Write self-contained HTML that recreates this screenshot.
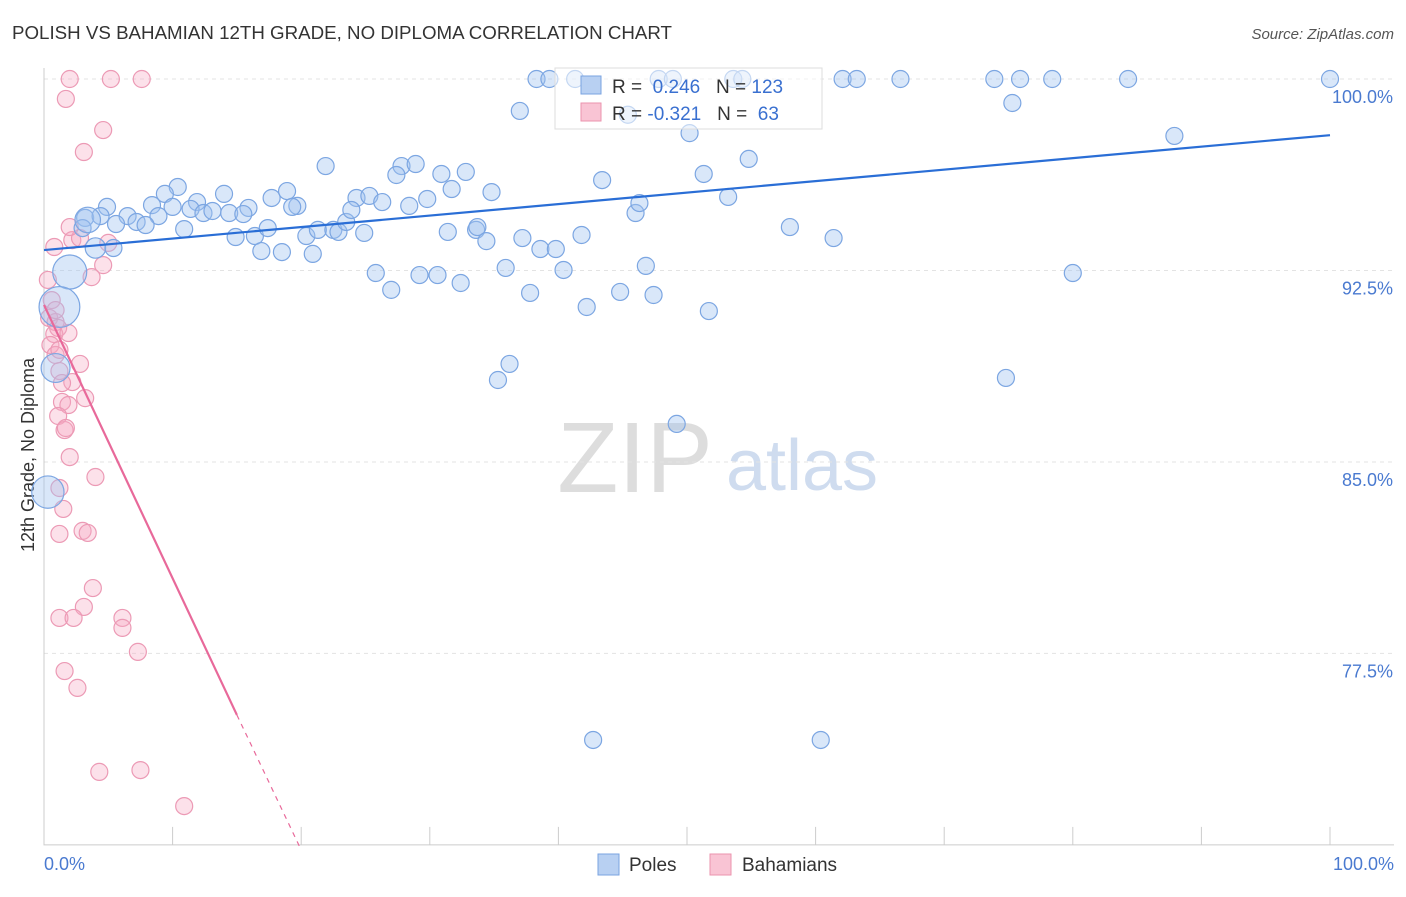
<!DOCTYPE html>
<html><head><meta charset="utf-8"><style>
body{margin:0;background:#fff;font-family:"Liberation Sans",sans-serif}
svg text{font-family:"Liberation Sans",sans-serif}
</style></head><body>
<svg id="chart" width="1406" height="892" xmlns="http://www.w3.org/2000/svg">
<text x="12" y="39" font-size="18" fill="#333" textLength="660" lengthAdjust="spacingAndGlyphs">POLISH VS BAHAMIAN 12TH GRADE, NO DIPLOMA CORRELATION CHART</text>
<text x="1394" y="39" font-size="15" fill="#555" text-anchor="end" font-style="italic">Source: ZipAtlas.com</text>
<text transform="translate(34,455) rotate(-90)" font-size="18" fill="#333" text-anchor="middle">12th Grade, No Diploma</text>
<g>
<text x="635" y="492" font-size="100" fill="#ddd" text-anchor="middle" font-family="Liberation Serif">ZIP</text>
<text x="802" y="490" font-size="72" fill="#cfdcef" text-anchor="middle">atlas</text>
</g>
<g id="grid"></g><g id="axes"></g><g id="pts"></g><g id="lines"></g>
<g>
<rect x="555" y="68" width="267" height="61" fill="rgba(255,255,255,0.55)" stroke="#ddd"/>
<rect x="581" y="76" width="20" height="18" fill="#b8d0f2" stroke="#7aa3e0"/>
<rect x="581" y="103" width="20" height="18" fill="#f9c4d4" stroke="#eb93ae"/>
<text x="612" y="93" font-size="19" fill="#333">R = <tspan fill="#3a70d0">&#160;0.246</tspan>&#160;&#160;&#160;N = <tspan fill="#3a70d0">123</tspan></text>
<text x="612" y="120" font-size="19" fill="#333">R = <tspan fill="#3a70d0">-0.321</tspan>&#160;&#160;&#160;N = <tspan fill="#3a70d0">&#160;63</tspan></text>
</g>
<g>
<rect x="598" y="854" width="21" height="21" fill="#b8d0f2" stroke="#7aa3e0"/>
<text x="629" y="871" font-size="19" fill="#333">Poles</text>
<rect x="710" y="854" width="21" height="21" fill="#f9c4d4" stroke="#eb93ae"/>
<text x="742" y="871" font-size="19" fill="#333">Bahamians</text>
</g>
</svg>
<script>
const yTicks=[100,92.5,85,77.5];
const yTickLabels=["100.0%","92.5%","85.0%","77.5%"];
const xTickLabels=["0.0%","100.0%"];
const polesX=[38.3,39.3,41.3,47.8,48.9,53.6,54.3,62.1,63.2,66.6,73.9,75.9,78.4,84.3,100,37.0,45.4,75.3,87.9,50.2,54.8,21.9,27.8,28.9,27.4,30.9,32.8,31.7,34.8,43.4,51.3,10.4,9.4,14.0,17.7,18.9,19.7,19.3,24.3,25.3,26.3,28.4,29.8,8.4,10.0,11.9,11.4,12.4,13.1,14.4,15.9,15.5,4.9,6.5,8.9,7.2,7.9,5.6,3.2,4.4,3.0,10.9,14.9,16.4,17.4,16.9,18.5,20.4,21.3,22.5,22.9,23.5,23.9,24.9,20.9,31.4,33.6,33.7,34.4,37.2,38.6,39.8,41.8,46.0,46.3,53.2,58.0,61.4,25.8,27.0,29.2,30.6,32.4,35.9,37.8,40.4,42.2,44.8,46.8,47.4,51.7,80.0,36.2,35.3,74.8,49.2,42.7,60.4,2.0,1.2,0.9,0.3,3.4,4.0,5.4];
const polesY=[100,100,100,100,100,100,100,100,100,100,100,100,100,100,100,98.75,98.6,99.06,97.77,97.88,96.87,96.59,96.59,96.67,96.24,96.28,96.36,95.69,95.57,96.04,96.28,95.77,95.5,95.5,95.34,95.61,95.03,94.99,95.34,95.42,95.18,95.03,95.30,95.06,94.99,95.18,94.91,94.75,94.83,94.75,94.95,94.71,94.99,94.63,94.63,94.40,94.28,94.32,94.56,94.63,94.16,94.12,93.81,93.85,94.16,93.26,93.22,93.85,94.09,94.09,94.01,94.40,94.87,93.97,93.15,94.01,94.09,94.20,93.65,93.77,93.34,93.34,93.89,94.75,95.14,95.38,94.20,93.77,92.40,91.74,92.32,92.32,92.01,92.60,91.62,92.52,91.07,91.66,92.68,91.54,90.91,92.40,88.84,88.21,88.29,86.49,74.11,74.11,92.44,91.07,88.68,83.82,94.48,93.38,93.38];
const polesSize=[];for(let i=0;i<polesX.length;i++)polesSize.push(1);
polesSize[polesSize.length-7]=2;polesSize[polesSize.length-6]=2.4;polesSize[polesSize.length-5]=1.7;polesSize[polesSize.length-4]=1.9;polesSize[polesSize.length-3]=1.5;polesSize[polesSize.length-2]=1.2;
const bahX=[2.0,5.2,7.6,1.7,4.6,3.1,0.8,2.2,2.8,2.0,5.0,4.6,3.7,0.3,0.6,0.4,0.9,1.1,0.8,1.9,0.5,0.9,1.2,2.8,2.2,3.2,1.4,1.9,1.1,1.6,1.7,2.0,4.0,1.2,1.5,1.2,3.0,3.4,3.8,3.1,1.2,2.3,6.1,6.1,7.3,1.6,2.6,4.3,7.5,10.9,0.9,1.2,1.4];
const bahY=[100,100,100,99.22,98.0,97.14,93.42,93.69,93.77,94.20,93.58,92.71,92.24,92.13,91.34,90.64,90.48,90.25,90.01,90.05,89.58,89.19,88.56,88.84,88.13,87.50,87.35,87.23,86.80,86.25,86.33,85.19,84.41,83.98,83.16,82.18,82.30,82.22,80.06,79.32,78.89,78.89,78.89,78.50,77.56,76.81,76.15,72.86,72.93,71.52,90.95,89.39,88.09];
const polesTrend=[93.3,97.8];
const bahTrend=[91.15,75.09,69.8];
const NS="http://www.w3.org/2000/svg";
const X=v=>44+v*12.86, Y=v=>79+(100-v)*25.53;
function mk(t,a,p){const e=document.createElementNS(NS,t);for(const k in a)e.setAttribute(k,a[k]);p.appendChild(e);return e;}
const grid=document.getElementById('grid'),axes=document.getElementById('axes'),pts=document.getElementById('pts'),lines=document.getElementById('lines');
yTicks.forEach((t,i)=>{
 const l=mk('line',{x1:44,x2:1394,y1:Y(t),y2:Y(t),stroke:'#e3e3e3','stroke-dasharray':'4,4'},grid);
 
 
 const tx=mk('text',{x:1393,y:Y(t)+24,'font-size':18,fill:'#4a7ad0','text-anchor':'end'},grid);tx.textContent=yTickLabels[i];
 
 
});
const ax=mk('path',{d:`M44 68 V${Y(70)} H1394`,stroke:'#ccc',fill:'none'},axes);


for(let i=0;i<=10;i++){const t=mk('line',{x1:X(i*10),x2:X(i*10),y1:Y(70)-18,y2:Y(70),stroke:'#ccc'},axes);
 
 }
[[0,'start',44],[100,'end',1394]].forEach((d,i)=>{const t=mk('text',{x:d[2],y:870,'font-size':18,fill:'#4a7ad0','text-anchor':d[1]},axes);t.textContent=xTickLabels[i];
 
 });
bahX.forEach((x,i)=>{const c=mk('circle',{cx:X(x),cy:Y(bahY[i]),r:8.5,fill:'rgba(246,170,195,0.35)',stroke:'#ec9ab5','stroke-width':1.2},pts);
 
 });
polesX.forEach((x,i)=>{const c=mk('circle',{cx:X(x),cy:Y(polesY[i]),r:8.5*polesSize[i],fill:'rgba(160,195,240,0.4)',stroke:'#7ca6e2','stroke-width':1.2},pts);
 
 });
const pl=mk('line',{x1:X(0),y1:Y(polesTrend[0]),x2:X(100),y2:Y(polesTrend[1]),stroke:'#2a6ed6','stroke-width':2.2},lines);


const bl=mk('line',{x1:X(0),y1:Y(bahTrend[0]),x2:X(15),y2:Y(bahTrend[1]),stroke:'#e8699a','stroke-width':2.2},lines);


const bd=mk('line',{x1:X(15),y1:Y(bahTrend[1]),x2:X(20),y2:Y(bahTrend[2]),stroke:'#e8699a','stroke-width':1.2,'stroke-dasharray':'5,5'},lines);


</script>
</body></html>
